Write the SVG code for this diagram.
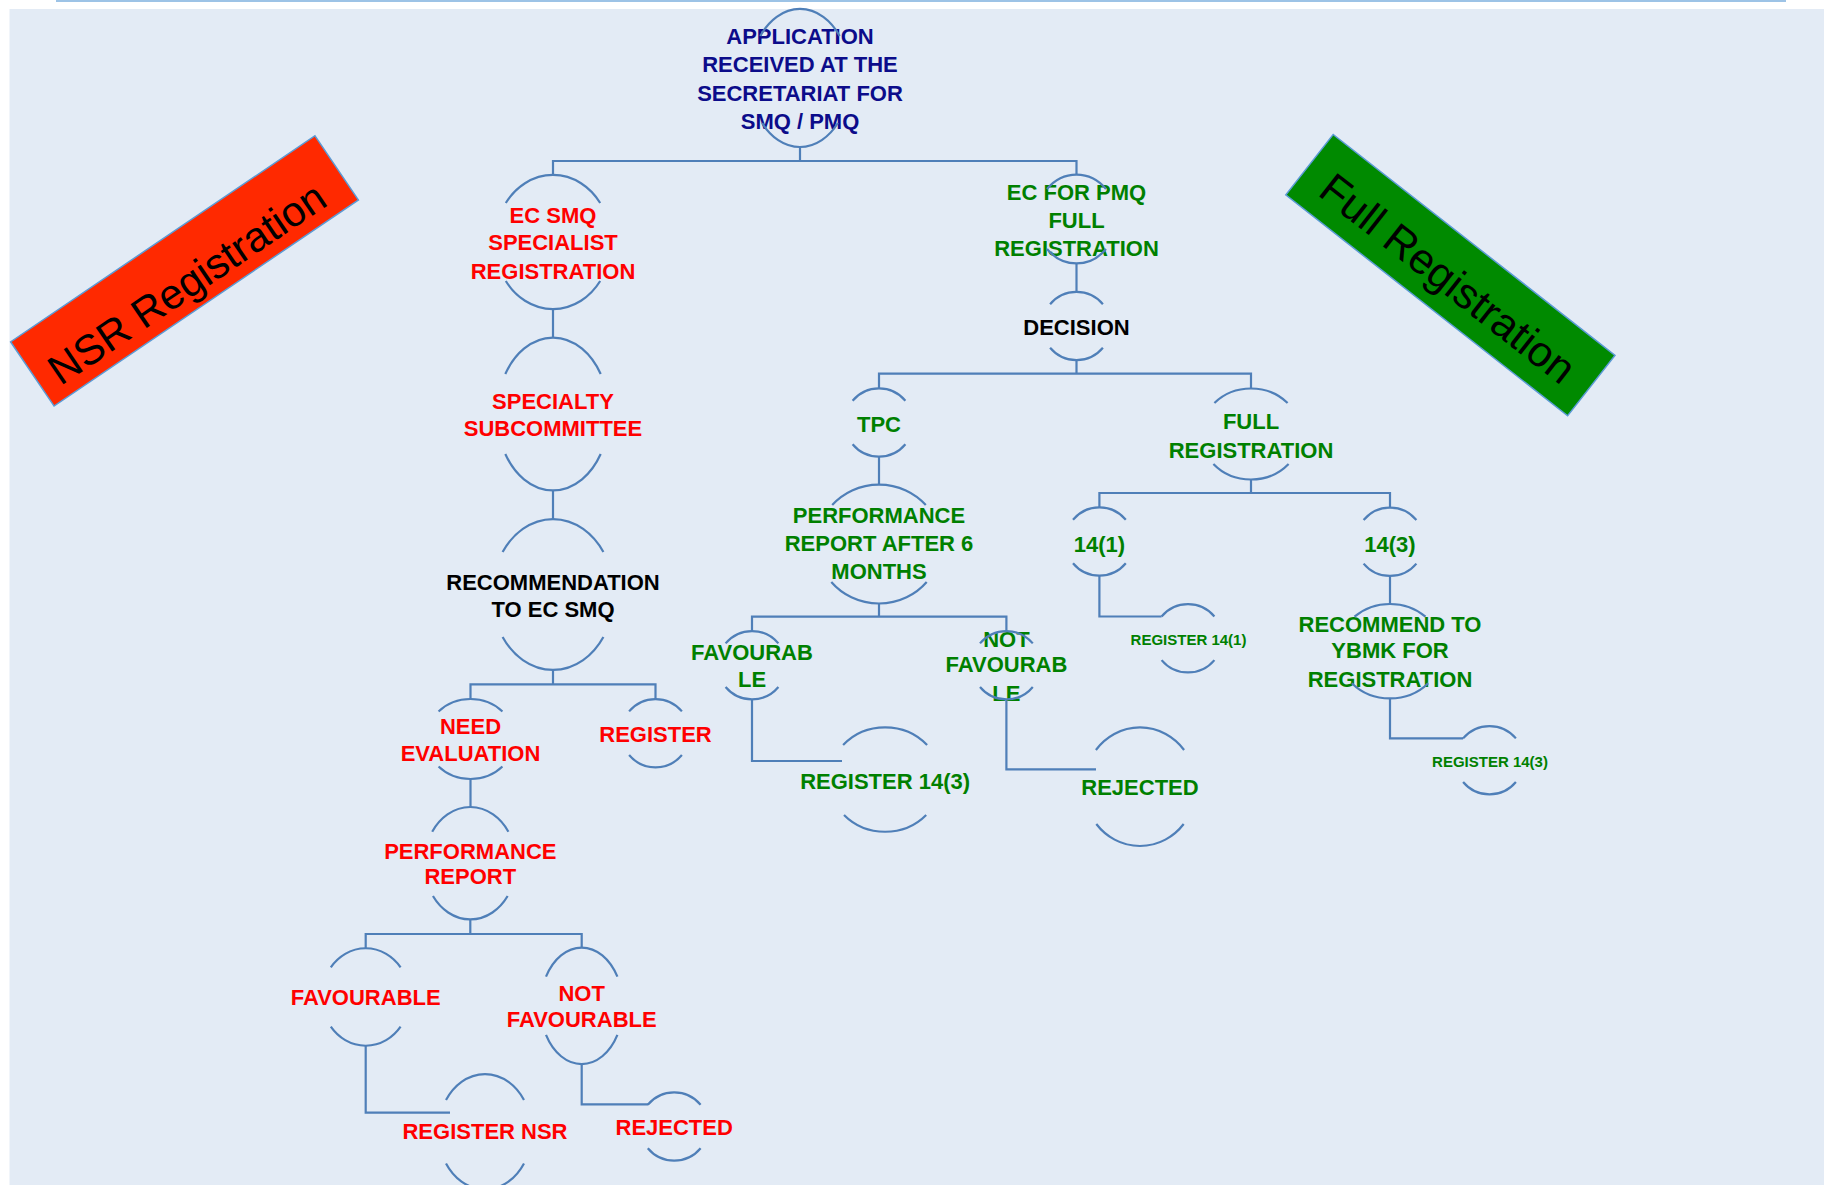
<svg xmlns="http://www.w3.org/2000/svg" width="1824" height="1185" viewBox="0 0 1824 1185">
<style>
.arc{fill:none;stroke:#4F7FB8;stroke-width:2.2}
.con{fill:none;stroke:#4F7FB8;stroke-width:2.2}
.t{font-family:"Liberation Sans",Arial,sans-serif;font-weight:bold;font-size:22px;text-anchor:middle}
.s{font-size:15px}
.navy{fill:#0C0C8A}
.red{fill:#FF0000}
.grn{fill:#008000}
.blk{fill:#000000}
.ban{font-family:"Liberation Sans",Arial,sans-serif;font-size:42px;text-anchor:middle;fill:#000}
</style>
<rect x="0" y="0" width="1824" height="1185" fill="#FFFFFF"/>
<rect x="9.5" y="9" width="1814.5" height="1176" fill="#E3EBF5"/>
<line x1="56" y1="1" x2="1786" y2="1" stroke="#9DC3E6" stroke-width="2"/>

<g id="banner-nsr" transform="translate(184.5,270.9) rotate(-34.1)">
<rect x="-183.75" y="-38.75" width="367.5" height="77.5" fill="#FF2900" stroke="#5B9BD5" stroke-width="1.5"/>
<text class="ban" x="-5" y="26">NSR Registration</text>
</g>
<g id="banner-full" transform="translate(1450.4,275.1) rotate(38.08)">
<rect x="-179" y="-38.4" width="358" height="76.8" fill="#008A00" stroke="#5B9BD5" stroke-width="1.5"/>
<text class="ban" x="0" y="19" style="font-size:43px">Full Registration</text>
</g>

<g id="connectors">
<path class="con" d="M800 147 V161 M553 175 V161 H1076.5 V174.5"/>
<path class="con" d="M553 309 V337.5"/>
<path class="con" d="M553 490.5 V519"/>
<path class="con" d="M553 670 V684.3 M470.5 699 V684.3 H655.5 V699"/>
<path class="con" d="M470.5 779 V807"/>
<path class="con" d="M470.3 919.4 V934 M365.7 948.3 V934 H581.7 V947.6"/>
<path class="con" d="M365.7 1045.7 V1112.7 H450"/>
<path class="con" d="M581.7 1064 V1104.3 H648"/>
<path class="con" d="M1076.5 263.5 V292"/>
<path class="con" d="M1076.5 360.2 V373.7 M879 388.3 V373.7 H1251 V388.5"/>
<path class="con" d="M879 456.7 V484.5"/>
<path class="con" d="M879 603.5 V616.7 M752 631 V616.7 H1006.4 V631"/>
<path class="con" d="M1251 479.5 V493 M1099.4 507.3 V493 H1390 V507.6"/>
<path class="con" d="M1099.4 575.7 V616.5 H1161.6"/>
<path class="con" d="M1390 576 V604"/>
<path class="con" d="M1390 698.4 V738.3 H1463.1"/>
<path class="con" d="M752 699.4 V761 H842"/>
<path class="con" d="M1006.4 699.4 V769.3 H1096"/>
</g>

<g id="n-application">
<text class="t navy" x="800"><tspan x="800" y="43.5">APPLICATION</tspan><tspan x="800" y="72">RECEIVED AT THE</tspan><tspan x="800" y="100.5">SECRETARIAT FOR</tspan><tspan x="800" y="129">SMQ / PMQ</tspan></text>
<path class="arc" d="M760.3 36 A50 69 0 0 1 839.7 36 M762.1 123 A50 69 0 0 0 837.9 123"/>
</g>

<g id="n-ecsmq">
<text class="t red"><tspan x="553" y="222.7">EC SMQ</tspan><tspan x="553" y="250.4">SPECIALIST</tspan><tspan x="553" y="278.5">REGISTRATION</tspan></text>
<path class="arc" d="M505.8 203 A58 67 0 0 1 600.2 203 M505.8 281 A58 67 0 0 0 600.2 281"/>
</g>

<g id="n-specialty">
<text class="t red"><tspan x="553" y="408.6">SPECIALTY</tspan><tspan x="553" y="435.7">SUBCOMMITTEE</tspan></text>
<path class="arc" d="M505.3 374 A56 76.5 0 0 1 600.7 374 M505.3 454 A56 76.5 0 0 0 600.7 454"/>
</g>

<g id="n-recommendation">
<text class="t blk"><tspan x="553" y="589.5">RECOMMENDATION</tspan><tspan x="553" y="616.5">TO EC SMQ</tspan></text>
<path class="arc" d="M502.6 552 A61 75.5 0 0 1 603.4 552 M502.6 637 A61 75.5 0 0 0 603.4 637"/>
</g>

<g id="n-needeval">
<text class="t red"><tspan x="470.5" y="734">NEED</tspan><tspan x="470.5" y="760.7">EVALUATION</tspan></text>
<path class="arc" d="M438.55 711.5 A44 40 0 0 1 502.45 711.5 M438.55 766.5 A44 40 0 0 0 502.45 766.5"/>
</g>

<g id="n-register">
<text class="t red" x="655.5" y="741.7">REGISTER</text>
<path class="arc" d="M629.1 711.4 A34.3 34.2 0 0 1 681.9 711.4 M629.1 755 A34.3 34.2 0 0 0 681.9 755"/>
</g>

<g id="n-perfreport">
<text class="t red"><tspan x="470.3" y="859">PERFORMANCE</tspan><tspan x="470.3" y="884">REPORT</tspan></text>
<path class="arc" d="M432.2 831.7 A46 56.2 0 0 1 508.4 831.7 M432.95 896 A46 56.2 0 0 0 507.65 896"/>
</g>

<g id="n-favourable">
<text class="t red" x="365.7" y="1005">FAVOURABLE</text>
<path class="arc" d="M330.8 967.3 A44 48.7 0 0 1 400.6 967.3 M330.8 1026.7 A44 48.7 0 0 0 400.6 1026.7"/>
</g>

<g id="n-notfavourable">
<text class="t red"><tspan x="581.7" y="1000.7">NOT</tspan><tspan x="581.7" y="1027.3">FAVOURABLE</tspan></text>
<path class="arc" d="M546 976.7 A41.2 58.2 0 0 1 617.4 976.7 M546 1034.9 A41.2 58.2 0 0 0 617.4 1034.9"/>
</g>

<g id="n-registernsr">
<text class="t red" x="485" y="1139.3">REGISTER NSR</text>
<path class="arc" d="M446 1100 A46.7 57.7 0 0 1 524 1100 M446 1163.4 A46.7 57.7 0 0 0 524 1163.4"/>
</g>

<g id="n-rejected-red">
<text class="t red" x="674.2" y="1135">REJECTED</text>
<path class="arc" d="M647.8 1104.7 A34.3 34.2 0 0 1 700.6 1104.7 M647.8 1148.3 A34.3 34.2 0 0 0 700.6 1148.3"/>
</g>

<g id="n-ecpmq">
<text class="t grn"><tspan x="1076.5" y="200">EC FOR PMQ</tspan><tspan x="1076.5" y="228.3">FULL</tspan><tspan x="1076.5" y="256">REGISTRATION</tspan></text>
<path class="arc" d="M1047 189 A40 44.5 0 0 1 1106 189 M1047 249 A40 44.5 0 0 0 1106 249"/>
</g>

<g id="n-decision">
<text class="t blk" x="1076.5" y="335">DECISION</text>
<path class="arc" d="M1050.1 304.2 A34.3 34.2 0 0 1 1102.9 304.2 M1050.1 347.8 A34.3 34.2 0 0 0 1102.9 347.8"/>
</g>

<g id="n-tpc">
<text class="t grn" x="879" y="431.7">TPC</text>
<path class="arc" d="M852.6 400.7 A34.3 34.2 0 0 1 905.4 400.7 M852.6 444.3 A34.3 34.2 0 0 0 905.4 444.3"/>
</g>

<g id="n-perf6">
<text class="t grn"><tspan x="879" y="523.3">PERFORMANCE</tspan><tspan x="879" y="550.7">REPORT AFTER 6</tspan><tspan x="879" y="579.3">MONTHS</tspan></text>
<path class="arc" d="M832.2 505 A62 59.5 0 0 1 925.8 505 M831.3 582 A62 59.5 0 0 0 926.7 582"/>
</g>

<g id="n-fullreg">
<text class="t grn"><tspan x="1251" y="429">FULL</tspan><tspan x="1251" y="457.7">REGISTRATION</tspan></text>
<path class="arc" d="M1214.4 403 A50 45.5 0 0 1 1287.6 403 M1213.4 464 A50 45.5 0 0 0 1288.6 464"/>
</g>

<g id="n-141">
<text class="t grn" x="1099.4" y="551.7">14(1)</text>
<path class="arc" d="M1073 519.7 A34.3 34.2 0 0 1 1125.8 519.7 M1073 563.3 A34.3 34.2 0 0 0 1125.8 563.3"/>
</g>

<g id="n-143">
<text class="t grn" x="1390" y="551.7">14(3)</text>
<path class="arc" d="M1363.6 520 A34.3 34.2 0 0 1 1416.4 520 M1363.6 563.6 A34.3 34.2 0 0 0 1416.4 563.6"/>
</g>

<g id="n-favourable-green">
<text class="t grn"><tspan x="752" y="660">FAVOURAB</tspan><tspan x="752" y="686.7">LE</tspan></text>
<path class="arc" d="M725.6 643.4 A34.3 34.2 0 0 1 778.4 643.4 M725.6 687 A34.3 34.2 0 0 0 778.4 687"/>
</g>

<g id="n-notfavourable-green">
<text class="t grn"><tspan x="1006.4" y="646.7">NOT</tspan><tspan x="1006.4" y="672.3">FAVOURAB</tspan><tspan x="1006.4" y="700.7">LE</tspan></text>
<path class="arc" d="M980 643.4 A34.3 34.2 0 0 1 1032.8 643.4 M980 687 A34.3 34.2 0 0 0 1032.8 687"/>
</g>

<g id="n-register143-large">
<text class="t grn" x="885.1" y="789">REGISTER 14(3)</text>
<path class="arc" d="M843.1 745 A56 52.2 0 0 1 927.1 745 M844 815 A56 52.2 0 0 0 926.2 815"/>
</g>

<g id="n-rejected-green">
<text class="t grn" x="1140" y="795">REJECTED</text>
<path class="arc" d="M1095.9 750 A56.2 59.3 0 0 1 1184.1 750 M1096.3 824 A56.2 59.3 0 0 0 1183.7 824"/>
</g>

<g id="n-register141">
<text class="t grn s" x="1188.5" y="645">REGISTER 14(1)</text>
<path class="arc" d="M1161.6 616.5 A34.3 34.2 0 0 1 1214.4 616.5 M1161.6 660.1 A34.3 34.2 0 0 0 1214.4 660.1"/>
</g>

<g id="n-recommend-ybmk">
<text class="t grn"><tspan x="1390" y="631.7">RECOMMEND TO</tspan><tspan x="1390" y="657.7">YBMK FOR</tspan><tspan x="1390" y="686.7">REGISTRATION</tspan></text>
<path class="arc" d="M1354.5 616.7 A52 47.2 0 0 1 1425.5 616.7 M1351.8 683.2 A52 47.2 0 0 0 1428.2 683.2"/>
</g>

<g id="n-register143-small">
<text class="t grn s" x="1490" y="766.7">REGISTER 14(3)</text>
<path class="arc" d="M1463.1 738.4 A34.3 34.2 0 0 1 1515.9 738.4 M1463.1 782 A34.3 34.2 0 0 0 1515.9 782"/>
</g>
</svg>
